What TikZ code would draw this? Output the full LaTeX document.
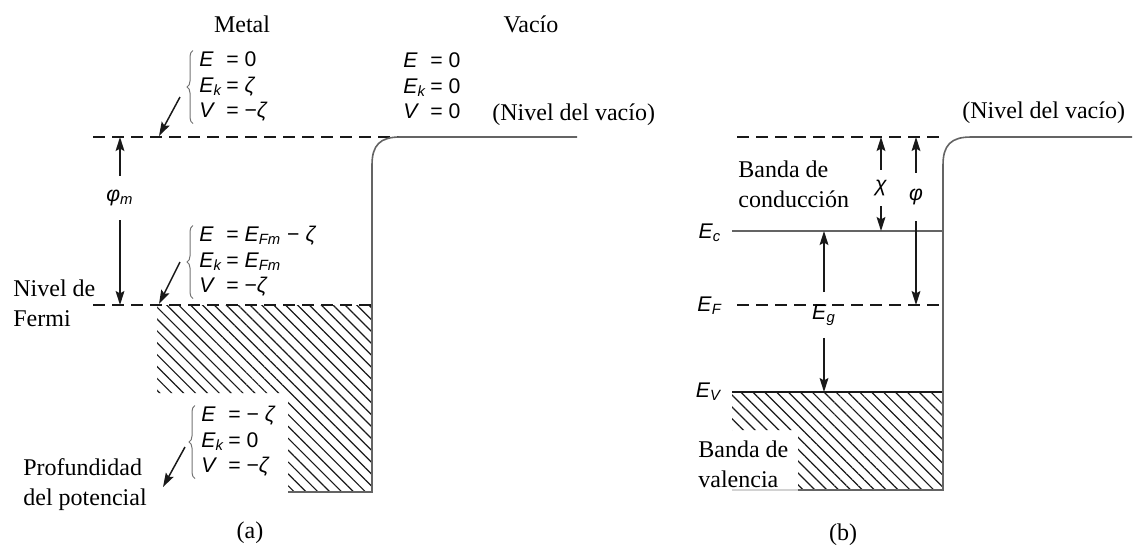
\documentclass[tikz,border=0pt]{standalone}
\usepackage{fontspec}
\setmainfont{Liberation Serif}
\setsansfont{Liberation Sans}
\usetikzlibrary{arrows.meta,positioning,calc,patterns.meta,decorations.pathreplacing}
\definecolor{ink}{RGB}{25,25,25}
\definecolor{wall}{RGB}{100,100,100}
\tikzset{
  lbl/.style={font=\fontsize{12}{15}\selectfont,align=left,inner sep=0pt},
  eqs/.style={font=\sffamily\fontsize{10.6}{12.7}\selectfont,inner sep=1pt},
  lvl/.style={dash pattern=on 6pt off 3.5pt,line width=0.7pt,ink},
  wallline/.style={line width=0.8pt,wall},
  hatch/.style={pattern={Lines[angle=-45,distance=4.2pt,line width=0.6pt]},pattern color=ink},
  arr/.style={-{Stealth[length=7pt,width=4.4pt,inset=1.2pt]},line width=0.75pt,ink},
  brc/.style={decorate,decoration={brace,amplitude=3pt},line width=0.5pt,black!55},
}
\newcommand{\vi}[1]{\textit{#1}}
\newcommand{\sub}[1]{\textsubscript{\textit{#1}}}

\begin{document}
\begin{tikzpicture}[x=0.5pt,y=-0.5pt]
\useasboundingbox (0,0) rectangle (1133,554);
% (a) metal
\node[lbl] (metal) at (242,24) {Metal};
\node[lbl] (vacio) at (531,24) {Vacío};
\coordinate (vacA) at (93,137);
\coordinate (fermiA) at (93,305);
\fill[hatch] (157,305) -- (372,305) -- (372,492) -- (288,492) -- (288,393) -- (157,393) -- cycle;
\draw[lvl] (vacA) -- (400,137);
\draw[lvl] (fermiA) -- (372,305);
\draw[wallline] (288,492) -- (372,492) -- (372,165) .. controls (372,145) and (380,137) .. (400,137) -- (577,137);
\node[eqs,anchor=west] (blkA) at (197,87)
  {\begin{tabular}{@{}l@{\,}l@{}}\vi{E} & = 0\\ \vi{E}\sub{k} & = \vi{ζ}\\ \vi{V} & = −\vi{ζ}\end{tabular}};
\node[eqs,anchor=west] (blkF) at (197,262)
  {\begin{tabular}{@{}l@{\,}l@{}}\vi{E} & = \vi{E}\sub{Fm} − \vi{ζ}\\ \vi{E}\sub{k} & = \vi{E}\sub{Fm}\\ \vi{V} & = −\vi{ζ}\end{tabular}};
\node[eqs,anchor=west] (blkP) at (199,442)
  {\begin{tabular}{@{}l@{\,}l@{}}\vi{E} & = − \vi{ζ}\\ \vi{E}\sub{k} & = 0\\ \vi{V} & = −\vi{ζ}\end{tabular}};
\node[eqs,anchor=west] (blkV) at (401,88)
  {\begin{tabular}{@{}l@{\,}l@{}}\vi{E} & = 0\\ \vi{E}\sub{k} & = 0\\ \vi{V} & = 0\end{tabular}};
\foreach \b in {blkA,blkF,blkP}
  \draw[brc] ([shift={(-4,-4)}]\b.south west) -- ([shift={(-4,4)}]\b.north west);
\coordinate (hitA) at (159,136);
\coordinate (hitF) at (159,304);
\coordinate (hitP) at (163,487);
\draw[arr] ([shift={(-17,10)}]blkA.west) -- (hitA);
\draw[arr] ([shift={(-17,0)}]blkF.west) -- (hitF);
\draw[arr] ([shift={(-14,5)}]blkP.west) -- (hitP);
\node[eqs,inner sep=7pt] (phim) at (120,198) {\vi{φ}\sub{m}};
\draw[arr] (phim) -- (phim |- vacA);
\draw[arr] (phim) -- (phim |- fermiA);
\node[lbl,anchor=west] (nivf) at (13,303) {Nivel de\\Fermi};
\node[lbl,anchor=west] (prof) at (23,485) {Profundidad\\del potencial};
\node[lbl,anchor=west] (nvA) at (492,115) {(Nivel del vacío)};
\node[lbl] (capa) at (250,533) {(a)};
% (b) semiconductor
\coordinate (vacB) at (737,137);
\coordinate (ecB) at (732,231);
\coordinate (efB) at (737,305);
\coordinate (evB) at (732,392);
\fill[hatch] (732,392) -- (943,392) -- (943,490) -- (798,490) -- (798,430) -- (732,430) -- cycle;
\draw[lvl] (vacB) -- (941,137);
\draw[lvl] (efB) -- (943,305);
\draw[wallline] (ecB) -- (943,231);
\draw[wallline,ink] (evB) -- (943,392);
\draw[wallline,gray!35] (732,490) -- (798,490);
\draw[wallline] (798,490) -- (943,490) -- (943,165) .. controls (943,145) and (951,137) .. (971,137) -- (1132,137);
\node[eqs] (ec) at (710,233) {\vi{E}\sub{c}};
\node[eqs] (ef) at (710,306) {\vi{E}\sub{F}};
\node[eqs] (ev) at (709,392) {\vi{E}\sub{V}};
\node[lbl,anchor=west] (bcond) at (738,184) {Banda de\\conducción};
\node[lbl,anchor=west] (bval) at (698,464) {Banda de\\valencia};
\node[lbl,anchor=west] (nvB) at (962,113) {(Nivel del vacío)};
\node[eqs,inner sep=5pt] (chi) at (881,188) {\vi{χ}};
\draw[arr] (chi) -- (chi |- vacB);
\draw[arr] (chi) -- (chi |- ecB);
\node[eqs,inner sep=8pt] (phi) at (916,197) {\vi{φ}};
\draw[arr] (phi) -- (phi |- vacB);
\draw[arr] (phi) -- (phi |- efB);
\node[eqs,inner sep=6pt] (eg) at (824,315) {\vi{E}\sub{g}};
\draw[arr] (eg) -- (eg |- ecB);
\draw[arr] (eg) -- (eg |- evB);
\node[lbl] (capb) at (843,535) {(b)};
\end{tikzpicture}
\end{document}
